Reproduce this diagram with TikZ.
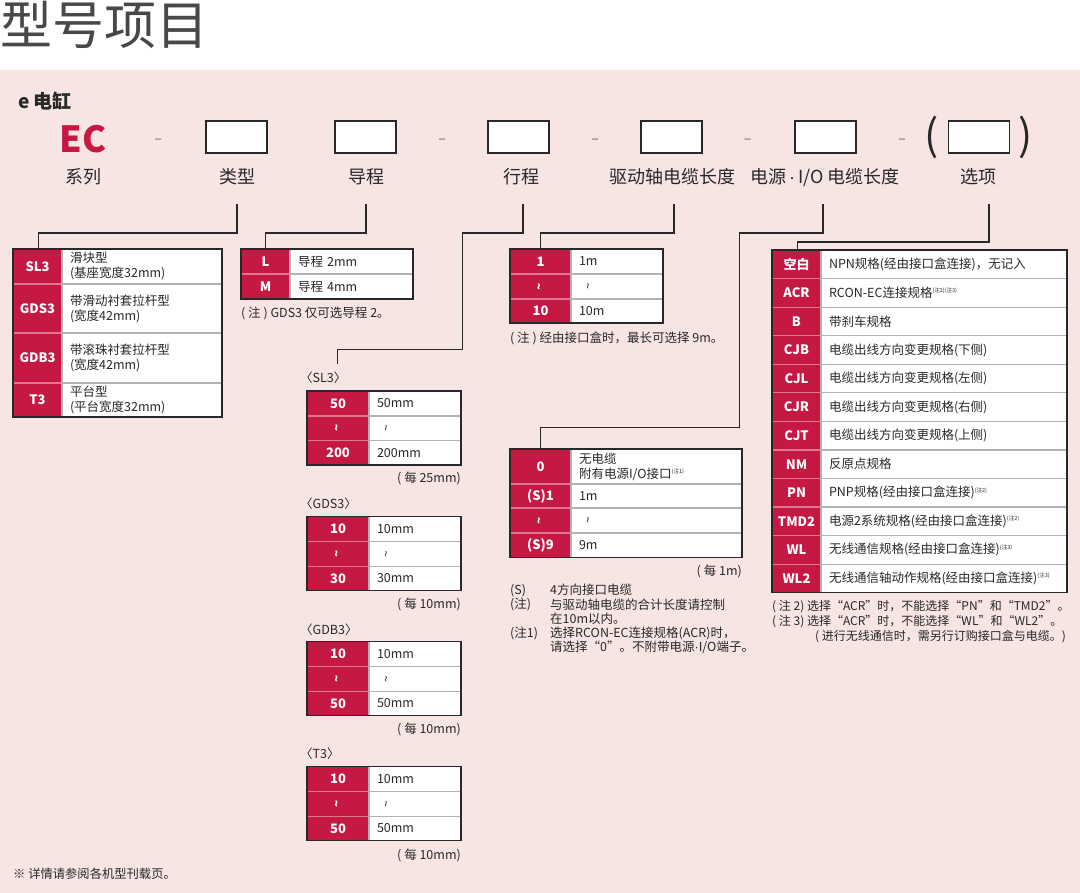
\documentclass[tikz,border=0pt]{standalone}
\usepackage{fontspec}
\setmainfont{Noto Sans CJK SC}
\newfontfamily\latinf{Liberation Sans}
\usetikzlibrary{positioning,fit}
\definecolor{ecred}{RGB}{197,24,66}
\definecolor{ecsep}{RGB}{222,120,145}
\definecolor{bgpink}{RGB}{246,229,227}
\definecolor{ink}{RGB}{40,40,40}
\newcommand\wav{\rotatebox{90}{\fontsize{12}{12}\selectfont\textasciitilde}}
\newcommand\nt[1]{\raisebox{0.7ex}{\fontsize{5.5}{6}\selectfont #1}}
\newcommand\mdot{{\latinf\,·\,}}

\begin{document}
\begin{tikzpicture}[x=1pt, y=1pt, text=ink,
  code/.style={fill=ecred, draw=ecsep, line width=1.2pt, text=white, font=\fontsize{13}{15}\selectfont\bfseries, minimum width=#1, inner sep=0pt, outer sep=0pt, anchor=north west},
  desc/.style={fill=white, draw=gray!60, line width=1.2pt, text width=#1, align=left, inner xsep=8pt, inner ysep=0pt, outer sep=0pt, font=\fontsize{12.5}{15}\selectfont},
  frame/.style={draw=ink, line width=1.5pt, inner sep=0pt},
  slot/.style={draw=ink, line width=1.2pt, fill=white, minimum width=61pt, minimum height=32pt, inner sep=0pt},
  lbl/.style={font=\fontsize{18}{20}\selectfont, anchor=base},
  hyph/.style={font=\fontsize{14}{14}\selectfont, text=gray!80!black, inner sep=0pt},
  note/.style={font=\fontsize{12.5}{14.3}\selectfont, inner sep=0pt, anchor=west, align=left},
  link/.style={draw=ink, line width=1.3pt}]
\useasboundingbox (0,0) rectangle (1080,-893);
\fill[bgpink] (0,-70) rectangle (1080,-893);
\node[font=\fontsize{52}{54}\selectfont, anchor=west, inner sep=0pt, text=ink!85] (title) at (0,-25) {型号项目};
\node[font=\fontsize{19}{20}\selectfont\bfseries, anchor=west, inner sep=0pt] (head) at (18,-101) {e 电缸};
% model code row
\node[font=\fontsize{36}{36}\selectfont\bfseries, text=ecred, inner sep=0pt] (ec) at (83,-139) {EC};
\node[hyph] (h1) at (158.5,-141) {–};
\node[slot] (s1) at (236.5,-137) {};
\node[slot] (s2) at (365.5,-137) {};
\node[hyph] (h2) at (442,-141) {–};
\node[slot] (s3) at (518.5,-137) {};
\node[hyph] (h3) at (595,-141) {–};
\node[slot] (s4) at (671.5,-137) {};
\node[hyph] (h4) at (747.5,-141) {–};
\node[slot] (s5) at (825.5,-137) {};
\node[hyph] (h5) at (902,-141) {–};
\node[font=\fontsize{42}{42}\selectfont, inner sep=0pt] (pl) at (932,-137) {(};
\node[slot] (s6) at (979,-137) {};
\node[font=\fontsize{42}{42}\selectfont, inner sep=0pt] (pr) at (1026,-137) {)};
\node[lbl] (lbSeries) at (83,-184) {系列};
\node[lbl] (lbType) at (237,-184) {类型};
\node[lbl] (lbLead) at (366,-184) {导程};
\node[lbl] (lbStroke) at (521,-184) {行程};
\node[lbl] (lbMotor) at (672,-184) {驱动轴电缆长度};
\node[lbl] (lbPower) at (825,-184) {电源\mdot I/O 电缆长度};
\node[lbl] (lbOpt) at (978,-184) {选项};
% type
\node[code=49pt, minimum height=35pt] (ty1) at (13,-249) {SL3};
\node[desc=144pt, minimum height=35pt, right=0pt of ty1] (ty1d) {滑块型\\(基座宽度32mm)};
\node[code=49pt, minimum height=49pt, below=0pt of ty1] (ty2) {GDS3};
\node[desc=144pt, minimum height=49pt, right=0pt of ty2] (ty2d) {带滑动衬套拉杆型\\(宽度42mm)};
\node[code=49pt, minimum height=50pt, below=0pt of ty2] (ty3) {GDB3};
\node[desc=144pt, minimum height=50pt, right=0pt of ty3] (ty3d) {带滚珠衬套拉杆型\\(宽度42mm)};
\node[code=49pt, minimum height=34pt, below=0pt of ty3] (ty4) {T3};
\node[desc=144pt, minimum height=34pt, right=0pt of ty4] (ty4d) {平台型\\(平台宽度32mm)};
\node[frame, fit=(ty1)(ty4d)] (tType) {};
% lead
\node[code=49pt, minimum height=25pt] (ld1) at (241,-249) {L};
\node[desc=107pt, minimum height=25pt, right=0pt of ld1] (ld1d) {导程 2mm};
\node[code=49pt, minimum height=25pt, below=0pt of ld1] (ld2) {M};
\node[desc=107pt, minimum height=25pt, right=0pt of ld2] (ld2d) {导程 4mm};
\node[frame, fit=(ld1)(ld2d)] (tLead) {};
\node[note] (ldNote) at (241,-313) {( 注 ) GDS3 仅可选导程 2。};
% stroke
\node[note] (hdSL3) at (300,-378) {〈SL3〉};
\node[code=62pt, minimum height=25pt] (sa1) at (307,-391) {50};
\node[desc=76pt, minimum height=25pt, right=0pt of sa1] (sa1d) {50mm};
\node[code=62pt, minimum height=24.5pt, below=0pt of sa1] (sa2) {\wav};
\node[desc=76pt, minimum height=24.5pt, right=0pt of sa2] (sa2d) {\hspace{8pt}\wav};
\node[code=62pt, minimum height=24.5pt, below=0pt of sa2] (sa3) {200};
\node[desc=76pt, minimum height=24.5pt, right=0pt of sa3] (sa3d) {200mm};
\node[frame, fit=(sa1)(sa3d)] (tSL3) {};
\node[note, anchor=east] (ftSL3) at (461,-478) {( 每 25mm)};
\node[note] (hdGDS3) at (300,-504) {〈GDS3〉};
\node[code=62pt, minimum height=25pt] (sb1) at (307,-516.7) {10};
\node[desc=76pt, minimum height=25pt, right=0pt of sb1] (sb1d) {10mm};
\node[code=62pt, minimum height=24.5pt, below=0pt of sb1] (sb2) {\wav};
\node[desc=76pt, minimum height=24.5pt, right=0pt of sb2] (sb2d) {\hspace{8pt}\wav};
\node[code=62pt, minimum height=24.5pt, below=0pt of sb2] (sb3) {30};
\node[desc=76pt, minimum height=24.5pt, right=0pt of sb3] (sb3d) {30mm};
\node[frame, fit=(sb1)(sb3d)] (tGDS3) {};
\node[note, anchor=east] (ftGDS3) at (461,-604) {( 每 10mm)};
\node[note] (hdGDB3) at (300,-630) {〈GDB3〉};
\node[code=62pt, minimum height=25pt] (sc1) at (307,-641.7) {10};
\node[desc=76pt, minimum height=25pt, right=0pt of sc1] (sc1d) {10mm};
\node[code=62pt, minimum height=24.5pt, below=0pt of sc1] (sc2) {\wav};
\node[desc=76pt, minimum height=24.5pt, right=0pt of sc2] (sc2d) {\hspace{8pt}\wav};
\node[code=62pt, minimum height=24.5pt, below=0pt of sc2] (sc3) {50};
\node[desc=76pt, minimum height=24.5pt, right=0pt of sc3] (sc3d) {50mm};
\node[frame, fit=(sc1)(sc3d)] (tGDB3) {};
\node[note, anchor=east] (ftGDB3) at (461,-729) {( 每 10mm)};
\node[note] (hdT3) at (300,-754) {〈T3〉};
\node[code=62pt, minimum height=25pt] (sd1) at (307,-766.7) {10};
\node[desc=76pt, minimum height=25pt, right=0pt of sd1] (sd1d) {10mm};
\node[code=62pt, minimum height=24.5pt, below=0pt of sd1] (sd2) {\wav};
\node[desc=76pt, minimum height=24.5pt, right=0pt of sd2] (sd2d) {\hspace{8pt}\wav};
\node[code=62pt, minimum height=24.5pt, below=0pt of sd2] (sd3) {50};
\node[desc=76pt, minimum height=24.5pt, right=0pt of sd3] (sd3d) {50mm};
\node[frame, fit=(sd1)(sd3d)] (tT3) {};
\node[note, anchor=east] (ftT3) at (461,-855) {( 每 10mm)};
% motor cable
\node[code=61pt, minimum height=25pt] (mt1) at (510,-249) {1};
\node[desc=76pt, minimum height=25pt, right=0pt of mt1] (mt1d) {1m};
\node[code=61pt, minimum height=25pt, below=0pt of mt1] (mt2) {\wav};
\node[desc=76pt, minimum height=25pt, right=0pt of mt2] (mt2d) {\hspace{8pt}\wav};
\node[code=61pt, minimum height=24pt, below=0pt of mt2] (mt3) {10};
\node[desc=76pt, minimum height=24pt, right=0pt of mt3] (mt3d) {10m};
\node[frame, fit=(mt1)(mt3d)] (tMotor) {};
\node[note] (mtNote) at (510,-338) {( 注 ) 经由接口盒时，最长可选择 9m。};
% power / io cable
\node[code=61pt, minimum height=35pt] (pw1) at (510,-449) {0};
\node[desc=155pt, minimum height=35pt, right=0pt of pw1] (pw1d) {无电缆\\附有电源I/O接口\nt{(注1)}};
\node[code=61pt, minimum height=24pt, below=0pt of pw1] (pw2) {(S)1};
\node[desc=155pt, minimum height=24pt, right=0pt of pw2] (pw2d) {1m};
\node[code=61pt, minimum height=25pt, below=0pt of pw2] (pw3) {\wav};
\node[desc=155pt, minimum height=25pt, right=0pt of pw3] (pw3d) {\hspace{8pt}\wav};
\node[code=61pt, minimum height=24.5pt, below=0pt of pw3] (pw4) {(S)9};
\node[desc=155pt, minimum height=24.5pt, right=0pt of pw4] (pw4d) {9m};
\node[frame, fit=(pw1)(pw4d)] (tPower) {};
\node[note, anchor=east] (ftPower) at (742,-571) {( 每 1m)};
\node[note, anchor=north west] (pwKeys) at (510,-584) {(S)\\(注)\\ \\(注1)};
\node[note, anchor=north west] (pwNotes) at (550,-584) {4方向接口电缆\\与驱动轴电缆的合计长度请控制\\在10m以内。\\选择RCON-EC连接规格(ACR)时，\\请选择“0”。不附带电源{\latinf·}I/O端子。};
% options
\node[code=49pt, minimum height=28.56pt] (op1) at (772,-250) {空白};
\node[desc=230pt, minimum height=28.56pt, right=0pt of op1] (op1d) {NPN规格(经由接口盒连接)，无记入};
\node[code=49pt, minimum height=28.56pt, below=0pt of op1] (op2) {ACR};
\node[desc=230pt, minimum height=28.56pt, right=0pt of op2] (op2d) {RCON-EC连接规格\nt{(注2)(注3)}};
\node[code=49pt, minimum height=28.56pt, below=0pt of op2] (op3) {B};
\node[desc=230pt, minimum height=28.56pt, right=0pt of op3] (op3d) {带刹车规格};
\node[code=49pt, minimum height=28.56pt, below=0pt of op3] (op4) {CJB};
\node[desc=230pt, minimum height=28.56pt, right=0pt of op4] (op4d) {电缆出线方向变更规格(下侧)};
\node[code=49pt, minimum height=28.56pt, below=0pt of op4] (op5) {CJL};
\node[desc=230pt, minimum height=28.56pt, right=0pt of op5] (op5d) {电缆出线方向变更规格(左侧)};
\node[code=49pt, minimum height=28.56pt, below=0pt of op5] (op6) {CJR};
\node[desc=230pt, minimum height=28.56pt, right=0pt of op6] (op6d) {电缆出线方向变更规格(右侧)};
\node[code=49pt, minimum height=28.56pt, below=0pt of op6] (op7) {CJT};
\node[desc=230pt, minimum height=28.56pt, right=0pt of op7] (op7d) {电缆出线方向变更规格(上侧)};
\node[code=49pt, minimum height=28.56pt, below=0pt of op7] (op8) {NM};
\node[desc=230pt, minimum height=28.56pt, right=0pt of op8] (op8d) {反原点规格};
\node[code=49pt, minimum height=28.56pt, below=0pt of op8] (op9) {PN};
\node[desc=230pt, minimum height=28.56pt, right=0pt of op9] (op9d) {PNP规格(经由接口盒连接)\nt{(注2)}};
\node[code=49pt, minimum height=28.56pt, below=0pt of op9] (op10) {TMD2};
\node[desc=230pt, minimum height=28.56pt, right=0pt of op10] (op10d) {电源2系统规格(经由接口盒连接)\nt{(注2)}};
\node[code=49pt, minimum height=28.56pt, below=0pt of op10] (op11) {WL};
\node[desc=230pt, minimum height=28.56pt, right=0pt of op11] (op11d) {无线通信规格(经由接口盒连接)\nt{(注3)}};
\node[code=49pt, minimum height=28.56pt, below=0pt of op11] (op12) {WL2};
\node[desc=230pt, minimum height=28.56pt, right=0pt of op12] (op12d) {无线通信轴动作规格(经由接口盒连接)\nt{(注3)}};
\node[frame, fit=(op1)(op12d)] (tOpt) {};
\node[note, font=\fontsize{12}{14}\selectfont] (opNote2) at (772,-607) {( 注 2) 选择“ACR”时，不能选择“PN”和“TMD2”。};
\node[note, font=\fontsize{12}{14}\selectfont] (opNote3) at (772,-622) {( 注 3) 选择“ACR”时，不能选择“WL”和“WL2”。};
\node[note, font=\fontsize{12}{14}\selectfont, anchor=east] (opNote3b) at (1066,-637) {( 进行无线通信时，需另行订购接口盒与电缆。)};
\node[note, font=\fontsize{12.3}{14}\selectfont] (foot) at (13,-874) {※ 详情请参阅各机型刊载页。};
% connectors
\draw[link] ([yshift=-20pt]lbType.base) -- ++(0,-29) -| ([xshift=26pt]tType.north west);
\draw[link] ([yshift=-20pt]lbLead.base) -- ++(0,-29) -| ([xshift=25pt]tLead.north west);
\draw[link] ([xshift=2pt,yshift=-20pt]lbStroke.base) -- ++(0,-29) -| ([xshift=1pt,yshift=41pt]tSL3.north east) -| ([xshift=31pt,yshift=26pt]tSL3.north west);
\draw[link] ([xshift=2pt,yshift=-20pt]lbMotor.base) -- ++(0,-29) -| ([xshift=31pt]tMotor.north west);
\draw[link] ([xshift=-2pt,yshift=-20pt]lbPower.base) -- ++(0,-29) -| ([xshift=-3pt,yshift=21pt]tPower.north east) -| ([xshift=31pt]tPower.north west);
\draw[link] ([xshift=11pt,yshift=-20pt]lbOpt.base) -- ++(0,-38) -| ([xshift=26pt]tOpt.north west);
\end{tikzpicture}
\end{document}
